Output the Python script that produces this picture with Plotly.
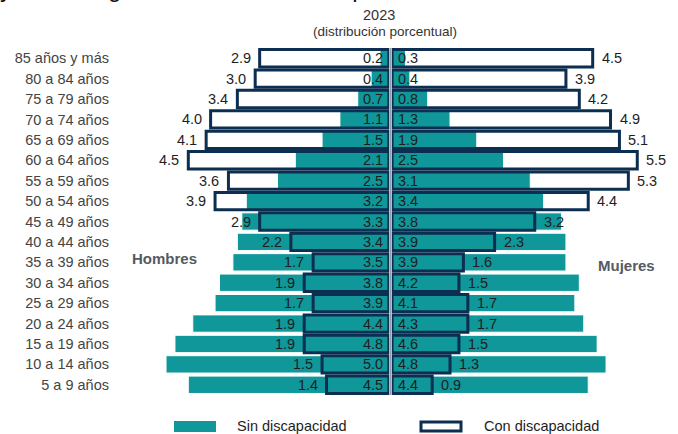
import plotly.graph_objects as go

categories = ["85 años y más", "80 a 84 años", "75 a 79 años", "70 a 74 años",
              "65 a 69 años", "60 a 64 años", "55 a 59 años", "50 a 54 años",
              "45 a 49 años", "40 a 44 años", "35 a 39 años", "30 a 34 años",
              "25 a 29 años", "20 a 24 años", "15 a 19 años", "10 a 14 años",
              "5 a 9 años"]
hombres_sin = [0.2, 0.4, 0.7, 1.1, 1.5, 2.1, 2.5, 3.2, 3.3, 3.4, 3.5, 3.8, 3.9, 4.4, 4.8, 5.0, 4.5]
hombres_con = [2.9, 3.0, 3.4, 4.0, 4.1, 4.5, 3.6, 3.9, 2.9, 2.2, 1.7, 1.9, 1.7, 1.9, 1.9, 1.5, 1.4]
mujeres_sin = [0.3, 0.4, 0.8, 1.3, 1.9, 2.5, 3.1, 3.4, 3.8, 3.9, 3.9, 4.2, 4.1, 4.3, 4.6, 4.8, 4.4]
mujeres_con = [4.5, 3.9, 4.2, 4.9, 5.1, 5.5, 5.3, 4.4, 3.2, 2.3, 1.6, 1.5, 1.7, 1.7, 1.5, 1.3, 0.9]

TEAL = "#0f979a"
NAVY = "#0c2e50"
TXT = "#1e1e1e"
FONT = "Liberation Sans, Arial, sans-serif"

W, H = 678, 434
L, R, T, B = 123, 20, 48, 39
PW, PH = W - L - R, H - T - B
GAP = 0.035
BW = 0.85


def px(xp):
    return (xp - L) / PW


def py(yp):
    return (H - B - yp) / PH


fig = go.Figure()

neg = lambda arr: [-v for v in arr]

# white fills of "con discapacidad"
fig.add_trace(go.Bar(y=categories, x=neg(hombres_con), base=-GAP, orientation="h",
                     width=BW, marker=dict(color="white", line=dict(width=0)),
                     showlegend=False, hoverinfo="skip"))
fig.add_trace(go.Bar(y=categories, x=mujeres_con, base=GAP, orientation="h",
                     width=BW, marker=dict(color="white", line=dict(width=0)),
                     showlegend=False, hoverinfo="skip"))
# teal "sin discapacidad"
fig.add_trace(go.Bar(y=categories, x=neg(hombres_sin), base=-GAP, orientation="h",
                     width=BW, marker=dict(color=TEAL, line=dict(color="white", width=1)),
                     name="Sin discapacidad", showlegend=False))
fig.add_trace(go.Bar(y=categories, x=mujeres_sin, base=GAP, orientation="h",
                     width=BW, marker=dict(color=TEAL, line=dict(color="white", width=1)),
                     name="Sin discapacidad", showlegend=False))
# outlines of "con discapacidad"
fig.add_trace(go.Bar(y=categories, x=neg(hombres_con), base=-GAP, orientation="h",
                     width=BW, marker=dict(color="rgba(0,0,0,0)", line=dict(color=NAVY, width=3)),
                     name="Con discapacidad", showlegend=False))
fig.add_trace(go.Bar(y=categories, x=mujeres_con, base=GAP, orientation="h",
                     width=BW, marker=dict(color="rgba(0,0,0,0)", line=dict(color=NAVY, width=3)),
                     name="Con discapacidad", showlegend=False))

annotations = []
lab_font = dict(family=FONT, size=14.5, color=TXT)
for cat, hs, hc, ms, mc in zip(categories, hombres_sin, hombres_con, mujeres_sin, mujeres_con):
    annotations.append(dict(x=0, y=cat, xref="x", yref="y", text=f"{hs:.1f}", showarrow=False,
                            xanchor="right", xshift=-6, font=lab_font))
    annotations.append(dict(x=0, y=cat, xref="x", yref="y", text=f"{ms:.1f}", showarrow=False,
                            xanchor="left", xshift=5, font=lab_font))
    annotations.append(dict(x=-hc - GAP, y=cat, xref="x", yref="y", text=f"{hc:.1f}", showarrow=False,
                            xanchor="right", xshift=-7, font=lab_font))
    annotations.append(dict(x=mc + GAP, y=cat, xref="x", yref="y", text=f"{mc:.1f}", showarrow=False,
                            xanchor="left", xshift=7, font=lab_font))

# titles
annotations.append(dict(x=px(379), y=py(15), xref="paper", yref="paper", text="2023",
                        showarrow=False, xanchor="center", yanchor="middle",
                        font=dict(family=FONT, size=14.5, color="#333333")))
annotations.append(dict(x=px(385), y=py(31), xref="paper", yref="paper",
                        text="(distribución porcentual)", showarrow=False,
                        xanchor="center", yanchor="middle",
                        font=dict(family=FONT, size=13.5, color="#333333")))
annotations.append(dict(x=px(-2), y=py(4), xref="paper", yref="paper",
                        text="y sexo, según condición de discapacidad", showarrow=False,
                        xanchor="left", yanchor="bottom",
                        font=dict(family=FONT, size=24, color="#111111")))
# side labels
annotations.append(dict(x=px(164), y=py(258), xref="paper", yref="paper", text="<b>Hombres</b>",
                        showarrow=False, xanchor="center", yanchor="middle",
                        font=dict(family=FONT, size=15, color="#555b62")))
annotations.append(dict(x=px(626), y=py(265), xref="paper", yref="paper", text="<b>Mujeres</b>",
                        showarrow=False, xanchor="center", yanchor="middle",
                        font=dict(family=FONT, size=15, color="#555b62")))
# legend texts
annotations.append(dict(x=px(235), y=py(426), xref="paper", yref="paper", text="Sin discapacidad",
                        showarrow=False, xanchor="left", yanchor="middle",
                        font=dict(family=FONT, size=14.5, color=TXT)))
annotations.append(dict(x=px(482), y=py(426), xref="paper", yref="paper", text="Con discapacidad",
                        showarrow=False, xanchor="left", yanchor="middle",
                        font=dict(family=FONT, size=14.5, color=TXT)))

shapes = [
    dict(type="line", xref="x", yref="paper", x0=0, x1=0, y0=0, y1=1,
         line=dict(color="white", width=2.5), layer="above"),
    dict(type="line", xref="x", yref="paper", x0=0, x1=0, y0=0, y1=1,
         line=dict(color="#8d9bab", width=1.5), layer="above"),
    dict(type="rect", xref="paper", yref="paper", x0=px(174), x1=px(216), y0=py(432), y1=py(421),
         fillcolor=TEAL, line=dict(width=0)),
    dict(type="rect", xref="paper", yref="paper", x0=px(421), x1=px(461), y0=py(431), y1=py(422),
         fillcolor="white", line=dict(color=NAVY, width=3)),
]

fig.update_layout(
    width=W, height=H,
    margin=dict(l=L, r=R, t=T, b=B),
    barmode="overlay",
    plot_bgcolor="white", paper_bgcolor="white",
    font=dict(family=FONT, size=14, color=TXT),
    xaxis=dict(range=[-6, 6], visible=False, showgrid=False, zeroline=False),
    yaxis=dict(categoryorder="array", categoryarray=categories, autorange="reversed",
               showgrid=False, zeroline=False, showline=False, ticks="",
               ticklabelstandoff=13,
               tickfont=dict(family=FONT, size=14.5, color="#444444")),
    annotations=annotations,
    shapes=shapes,
    showlegend=False,
)

fig.write_html("out.html", config={"displayModeBar": False},
               post_script="document.body.style.margin='0';document.body.style.padding='0';")
